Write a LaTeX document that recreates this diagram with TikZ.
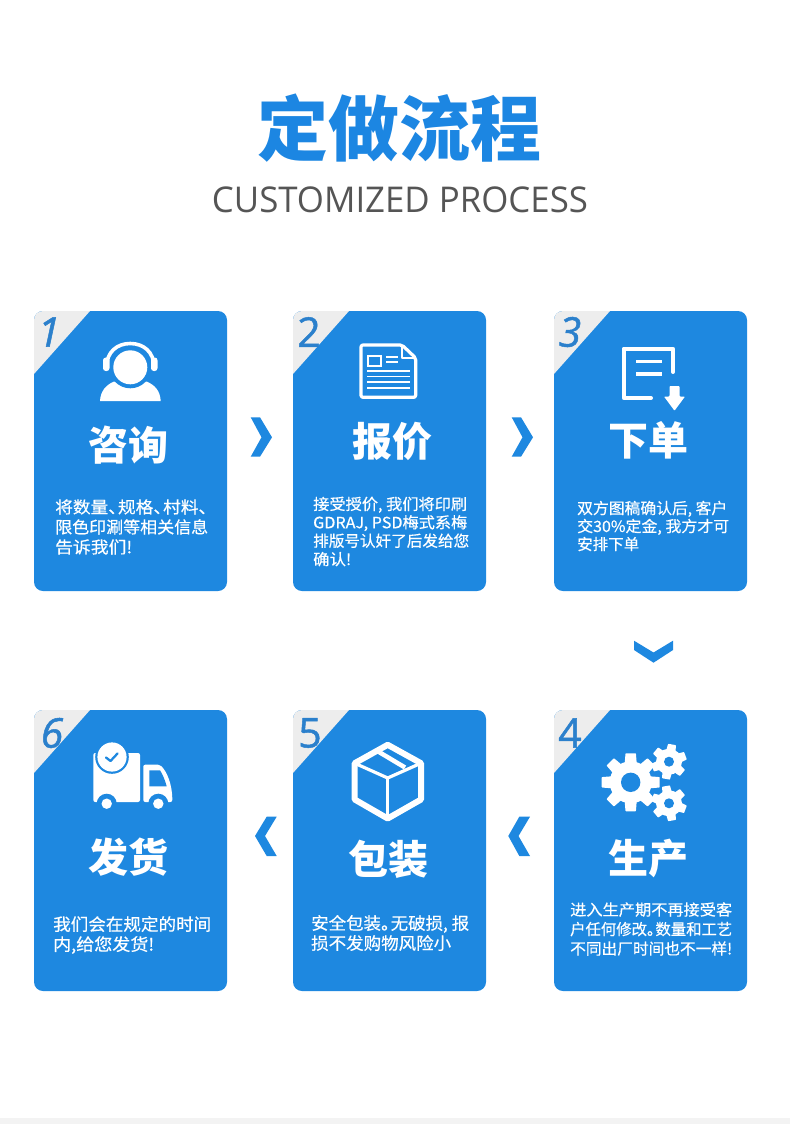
\documentclass[tikz,border=0pt]{standalone}
\usepackage{fontspec}
\setmainfont{Noto Sans CJK SC}
\newfontfamily\digitfont[FakeBold=1.2]{Open Sans}
\newfontfamily\subfont{Open Sans}
\newfontfamily\bodyfont[FakeBold=0.5]{Noto Sans CJK SC}
\definecolor{cardblue}{HTML}{1E88E0}
\definecolor{titleblue}{HTML}{1C86E2}
\definecolor{digitblue}{HTML}{2B80CC}
\definecolor{cornergray}{HTML}{EDEDED}
\definecolor{subgray}{HTML}{555555}
\definecolor{bandgray}{HTML}{F3F3F3}
\newcommand{\fitln}[2]{\resizebox{#1pt}{\height}{#2}}
\newcommand{\np}{\kern-.45em}
\newcommand{\cm}{\kern.22em}
\newcommand{\gearicon}[8]{% x y rbody router hole step rotation tip-half-width
  \fill[white] (#1,#2) circle[radius=#3];
  \foreach \a in {0,#6,...,359}{
    \fill[white,rotate around={\a+#7:(#1,#2)},rounded corners=0.6pt]
      ({#1-1.45*#8},#2) -- ({#1-#8},{#2-#4}) -- ({#1+#8},{#2-#4}) -- ({#1+1.45*#8},#2) -- cycle;
  }
  \fill[cardblue] (#1,#2) circle[radius=#5];
}
\tikzset{
  card/.style={fill=cardblue,rounded corners=9pt,minimum width=193pt,minimum height=280pt,inner sep=0pt,draw=none},
  heading/.style={text=white,inner sep=0pt,font=\fontsize{40}{40}\selectfont\bfseries},
  bodytext/.style={text=white,inner sep=0pt,anchor=west,align=left},
  numeral/.style={text=digitblue,inner sep=0pt,font=\fontsize{41}{41}\selectfont\digitfont},
  chevron/.style={fill=cardblue,draw=none},
  iconline/.style={draw=white,line cap=round,line join=round},
}
\newcommand{\corner}[2]{%
  \begin{scope}
    \clip[rounded corners=9pt] (#1,#2) rectangle ({#1+193},{#2+281});
    \fill[cornergray] (#1,#2) -- ({#1+56},#2) -- (#1,{#2+63}) -- cycle;
  \end{scope}}
\begin{document}
\begin{tikzpicture}[x=1pt,y=-1pt]
\useasboundingbox (0,0) rectangle (790,1124);
\fill[white] (0,0) rectangle (790,1124);
\fill[bandgray] (0,1118) rectangle (790,1124);

\node[inner sep=0pt,text=titleblue,font=\fontsize{71}{71}\selectfont\bfseries] (title) at (399,128) {定做流程};
\node[inner sep=0pt,text=subgray,font=\fontsize{35.5}{36}\selectfont\subfont] (subtitle) at (400,199.5) {\fitln{376}{CUSTOMIZED PROCESS}};

% cards
\node[card] (c1) at (130.5,451) {};
\node[card] (c2) at (389.5,451) {};
\node[card] (c3) at (650.5,451) {};
\node[card,minimum height=281pt] (c6) at (130.5,850.5) {};
\node[card,minimum height=281pt] (c5) at (389.5,850.5) {};
\node[card,minimum height=281pt] (c4) at (650.5,850.5) {};
\corner{34}{311}\corner{293}{311}\corner{554}{311}
\corner{34}{710}\corner{293}{710}\corner{554}{710}

% numerals
\node[numeral,font=\fontsize{41}{41}\selectfont\digitfont\itshape] (n1) at (49,332) {1};
\node[numeral] (n2) at (309,332) {2};
\node[numeral,font=\fontsize{41}{41}\selectfont\digitfont\itshape] (n3) at (570,332) {3};
\node[numeral] (n4) at (570,733) {4};
\node[numeral] (n5) at (310,733) {5};
\node[numeral,font=\fontsize{41}{41}\selectfont\digitfont\itshape] (n6) at (52,733) {6};

% headings
\node[heading] (h1) at (128,445) {咨询};
\node[heading] (h2) at (392,441) {报价};
\node[heading] (h3) at (648,440) {下单};
\node[heading] (h4) at (648,858) {生产};
\node[heading] (h5) at (388,859) {包装};
\node[heading] (h6) at (128,857) {发货};

% body texts
\node[bodytext,font=\fontsize{16.5}{20}\selectfont\bodyfont] (b1) at (55,527) {\fitln{153}{将数量、\np 规格、\np 村料、\np}\\\fitln{153}{限色印涮等相关信息}\\\fitln{77}{告诉我们!}};
\node[bodytext,font=\fontsize{15.5}{18.4}\selectfont\bodyfont] (b2) at (313,531.5) {\fitln{154}{接受授价,\cm 我们将印刷}\\\fitln{154}{GDRAJ,\cm PSD梅式系梅}\\\fitln{156}{排版号认奸了后发给您}\\\fitln{38}{确认!}};
\node[bodytext,font=\fontsize{15.5}{18}\selectfont\bodyfont] (b3) at (577,526) {\fitln{150}{双方图稿确认后,\cm 客户}\\\fitln{152}{交30\%定金,\cm 我方才可}\\\fitln{62}{安排下单}};
\node[bodytext,font=\fontsize{15.5}{19.5}\selectfont\bodyfont] (b4) at (570,929) {\fitln{162}{进入生产期不再接受客}\\\fitln{162}{户任何修改。\np 数量和工艺}\\\fitln{162}{不同出厂时间也不一样!}};
\node[bodytext,font=\fontsize{17}{20}\selectfont\bodyfont] (b5) at (311,933) {\fitln{158}{安全包装。\np 无破损,\cm 报}\\\fitln{140}{损不发购物风险小}};
\node[bodytext,font=\fontsize{17}{20}\selectfont\bodyfont] (b6) at (53,935) {\fitln{158}{我们会在规定的时间}\\\fitln{101}{内,给您发货!}};

% chevrons
\fill[chevron] (250.7,417.3) -- (260,417.3) -- (272,437.3) -- (260,456.7) -- (250.7,456.7) -- (261.5,437.3) -- cycle;
\fill[chevron] (511.7,417.3) -- (521,417.3) -- (533,437.3) -- (521,456.7) -- (511.7,456.7) -- (522.5,437.3) -- cycle;
\fill[chevron] (634,640.7) -- (653.5,652.5) -- (673,640.7) -- (673,650) -- (653.5,662.7) -- (634,650) -- cycle;
\fill[chevron] (530,816.7) -- (519.3,816.7) -- (508.3,836) -- (519.3,856) -- (530,856) -- (518.5,836) -- cycle;
\fill[chevron] (276.7,816.7) -- (266.7,816.7) -- (255,836) -- (266.7,856) -- (276.7,856) -- (265,836) -- cycle;

% headset icon
\fill[white] (100,401) .. controls (100.5,391) and (106,385) .. (114,381.5) -- (146.5,381.5) .. controls (155,385) and (160.2,391) .. (160.7,401) -- cycle;
\fill[cardblue] (130.3,367.3) circle[radius=21];
\fill[white] (130.3,367.3) circle[radius=17];
\draw[iconline,line width=3.6pt,line cap=butt] (106.5,367.3) .. controls (106.5,352) and (117,343.5) .. (130.3,343.5) .. controls (143.5,343.5) and (154.1,352) .. (154.1,367.3);
\fill[white,rounded corners=2.8pt] (103,357.5) rectangle (109.5,371);
\fill[white,rounded corners=2.8pt] (151,357.5) rectangle (157.5,371);

% document icon
\draw[iconline,line width=3.2pt,rounded corners=2pt] (361,345) -- (402,345) -- (415.7,358) -- (415.7,397.3) -- (361,397.3) -- cycle;
\draw[iconline,line width=2pt] (402,346) -- (402,358) -- (415,358);
\draw[white,line width=2pt] (368,356) rectangle (381,365.5);
\draw[white,line width=1.6pt] (386,357) -- (398,357) (386,362) -- (398,362);
\draw[white,line width=1.6pt] (367,371) -- (410,371) (367,376.5) -- (410,376.5) (367,382) -- (410,382) (367,388) -- (410,388);

% order icon
\draw[iconline,line width=4pt] (673,372) -- (673,348.7) -- (623.7,348.7) -- (623.7,398) -- (651,398);
\draw[white,line width=3.4pt] (636,361.7) -- (661.7,361.7) (636,374) -- (661.7,374);
\fill[white,rounded corners=0.8pt] (669.5,386) -- (679.5,386) -- (679.5,396.5) -- (685,396.5) -- (674.5,410.7) -- (664,396.5) -- (669.5,396.5) -- cycle;

% gears
\gearicon{630.7}{782.3}{21}{29}{9.7}{45}{0}{5.2}
\gearicon{669}{761.7}{13}{17.5}{5}{60}{-10}{4}
\gearicon{669}{803.3}{13}{17.5}{5}{60}{10}{4}

% box icon
\draw[iconline,line width=6pt,line join=round] (387.7,744.8) -- (421,763.2) -- (421,799.5) -- (387.7,818.5) -- (354.7,799.5) -- (354.7,763.2) -- cycle;
\draw[iconline,line width=3.2pt] (354.7,763.2) -- (387.7,778) -- (421,763.2);
\draw[iconline,line width=3.2pt] (387.7,778) -- (387.7,818);
\draw[white,line width=4.5pt] (376.5,750.5) -- (405,767.5);

% truck icon
\fill[white,rounded corners=2pt] (93.3,753) rectangle (140,802);
\fill[white,rounded corners=2pt] (143.3,764.7) -- (160,764.7) .. controls (167,772) and (172.3,784) .. (172.3,802) -- (143.3,802) -- cycle;
\fill[cardblue] (149.3,770.3) -- (160,770.3) .. controls (162.5,774) and (165,780) .. (166.7,786.3) -- (149.3,786.3) -- cycle;
\fill[cardblue] (106.7,803.7) circle[radius=10];
\fill[cardblue] (158.3,803.7) circle[radius=10];
\fill[white] (106.7,803.7) circle[radius=5.2];
\fill[white] (158.3,803.7) circle[radius=5.2];
\fill[cardblue] (112,757) circle[radius=16.8];
\fill[white] (112,757) circle[radius=14.6];
\draw[draw=cardblue,line width=2.3pt,line cap=round,line join=round] (106,757.5) -- (110.5,761) -- (117.5,753.5);
\end{tikzpicture}
\end{document}
